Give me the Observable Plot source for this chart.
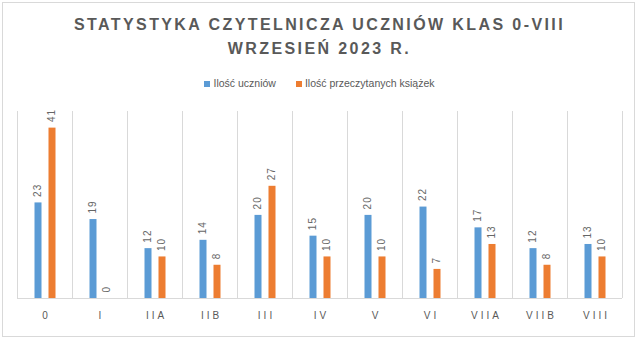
<!DOCTYPE html>
<html><head><meta charset="utf-8">
<script src="https://cdn.jsdelivr.net/npm/d3@7"></script>
<script src="https://cdn.jsdelivr.net/npm/@observablehq/plot@0.6"></script>
<style>
body{margin:0;background:#fff;}
#wrap{position:relative;width:639px;height:341px;overflow:hidden;font-family:"Liberation Sans",sans-serif;}
#border{position:absolute;left:2px;top:2px;width:633px;height:335px;border:1px solid #d9d9d9;box-sizing:border-box;}
#title{position:absolute;left:0;top:13px;width:639px;text-align:center;color:#595959;font-size:16px;font-weight:bold;letter-spacing:2.4px;line-height:24px;}
#legend{position:absolute;left:0;top:77px;width:639px;text-align:center;color:#595959;font-size:10.5px;font-family:"Liberation Sans Narrow","Liberation Sans",sans-serif;}
#legend span.sw{display:inline-block;width:6px;height:6px;margin-right:3px;vertical-align:0px;}
#legend span.it{margin:0 10px;}
#chart{position:absolute;left:0;top:95px;}
</style></head>
<body><div id="wrap"><div id="border"></div>
<div id="title">STATYSTYKA CZYTELNICZA UCZNIÓW KLAS 0-VIII<br>WRZESIEŃ 2023 R.</div>
<div id="legend"></div>
<div id="chart"></div></div>
<script>
const categories = ["0","I","IIA","IIB","III","IV","V","VI","VIIA","VIIB","VIII"];
const seriesNames = ["Ilość uczniów","Ilość przeczytanych książek"];
const students = [23,19,12,14,20,15,20,22,17,12,13];
const books = [41,0,10,8,27,10,10,7,13,8,10];
const colors = ["#5B9BD5","#ED7D31"];

const data = [];
categories.forEach((c,i)=>{
  data.push({cat:c, series:seriesNames[0], value:students[i]});
  data.push({cat:c, series:seriesNames[1], value:books[i]});
});

const leg = document.getElementById("legend");
seriesNames.forEach((s,i)=>{
  const it = document.createElement("span"); it.className="it";
  it.innerHTML = `<span class="sw" style="background:${colors[i]}"></span>${s}`;
  leg.appendChild(it);
});

const bw = 55;
const labelFont = {fontSize:10, fill:"#666666", fontFamily:"Liberation Sans Narrow, Liberation Sans, sans-serif"};
const chart = Plot.plot({
  width:639, height:246,
  marginLeft:17, marginRight:17, marginTop:16, marginBottom:43,
  x:{domain:categories, padding:0, axis:null},
  y:{domain:[0,45], axis:null},
  color:{domain:seriesNames, range:colors},
  marks:[
    Plot.ruleX(categories, {x:d=>d, dx:-bw/2, y1:0, y2:45, stroke:"#d9d9d9"}),
    Plot.ruleX(categories.slice(-1), {x:d=>d, dx:bw/2, y1:0, y2:45, stroke:"#d9d9d9"}),
    Plot.ruleY([0], {stroke:"#d9d9d9"}),
    Plot.barY(data.filter(d=>d.series===seriesNames[0]), {x:"cat", y:"value", fill:"series", insetLeft:17.5, insetRight:30.5}),
    Plot.barY(data.filter(d=>d.series===seriesNames[1]), {x:"cat", y:"value", fill:"series", insetLeft:31.5, insetRight:16.5}),
    Plot.text(data.filter(d=>d.series===seriesNames[0]), {x:"cat", y:"value", text:d=>String(d.value), rotate:-90, textAnchor:"start", lineAnchor:"middle", dx:-7, dy:-6, ...labelFont}),
    Plot.text(data.filter(d=>d.series===seriesNames[1]), {x:"cat", y:"value", text:d=>String(d.value), rotate:-90, textAnchor:"start", lineAnchor:"middle", dx:7, dy:-6, ...labelFont}),
    Plot.axisX({domain:categories, tickSize:0, tickPadding:13, fontSize:10, color:"#595959", fill:"#595959", label:null})
  ]
});
chart.style.fontFamily = "Liberation Sans Narrow, Liberation Sans, sans-serif";
chart.querySelectorAll("[aria-label='x-axis tick label'] text").forEach(t=>{
  t.style.letterSpacing = "3px";
  t.setAttribute("dx", "1.5");
});
chart.querySelectorAll("[aria-label='text'] text").forEach(t=>{
  t.style.letterSpacing = "1px";
});
document.getElementById("chart").appendChild(chart);
</script></body></html>
